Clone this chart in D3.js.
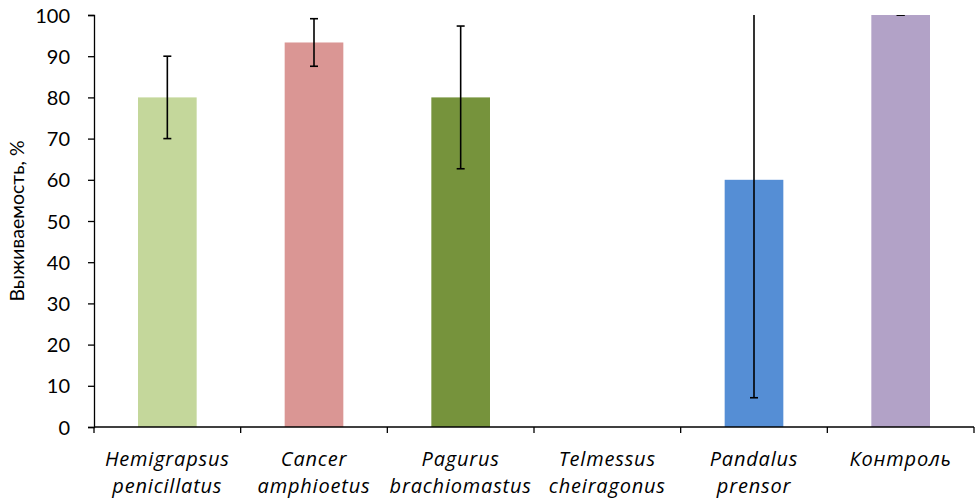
<!DOCTYPE html>
<html>
<head>
<meta charset="utf-8">
<script src="https://cdn.jsdelivr.net/npm/d3@7"></script>
<style>
  html, body { margin: 0; padding: 0; background: #fff; }
  svg { display: block; }
  text { font-family: Lato, "Open Sans", sans-serif; fill: #000; }
</style>
</head>
<body>
<svg id="chart" width="977" height="501"></svg>
<script>
// Survival of species after exposure, with standard error bars
const categories = [
  ["Hemigrapsus", "penicillatus"],
  ["Cancer", "amphioetus"],
  ["Pagurus", "brachiomastus"],
  ["Telmessus", "cheiragonus"],
  ["Pandalus", "prensor"],
  ["Контроль"]
];
const survival = [80, 93.33, 80, 0, 60, 100];
const errors = [10, 5.77, 17.32, 0, 52.9, 0];
const colors = ["#c4d79b", "#da9694", "#76933c", "#558ed5", "#558ed5", "#b2a2c7"];
const yTicks = [0, 10, 20, 30, 40, 50, 60, 70, 80, 90, 100];
const yLabel = "Выживаемость, %";

const svg = d3.select("#chart");
const margin = { left: 94, right: 3, top: 15, bottom: 74 };
const width = 977, height = 501;
const x0 = margin.left, x1 = width - margin.right;
const y0 = height - margin.bottom, y1 = margin.top;

const x = d3.scaleBand()
  .domain(d3.range(categories.length))
  .range([x0, x1])
  .paddingInner(0.6)
  .paddingOuter(0.3);

const y = d3.scaleLinear().domain([0, 100]).range([y0, y1]);

svg.append("defs").append("clipPath").attr("id", "plot")
  .append("rect").attr("x", x0).attr("y", y1).attr("width", x1 - x0).attr("height", y0 - y1);

// bars
svg.append("g").selectAll("rect")
  .data(survival)
  .join("rect")
  .attr("x", (d, i) => x(i))
  .attr("width", x.bandwidth())
  .attr("y", d => y(d))
  .attr("height", d => y(0) - y(d))
  .attr("fill", (d, i) => colors[i]);

// error bars
const eg = svg.append("g").attr("clip-path", "url(#plot)")
  .attr("stroke", "#000").attr("stroke-width", 1.6);
survival.forEach((v, i) => {
  if (v === 0) return;
  const cx = x(i) + x.bandwidth() / 2;
  const lo = v - errors[i], hi = v + errors[i];
  eg.append("line").attr("x1", cx).attr("x2", cx).attr("y1", y(lo)).attr("y2", y(hi));
  eg.append("line").attr("x1", cx - 4).attr("x2", cx + 4).attr("y1", y(lo)).attr("y2", y(lo));
  eg.append("line").attr("x1", cx - 4).attr("x2", cx + 4).attr("y1", y(hi)).attr("y2", y(hi));
});

// y axis
const yAxis = svg.append("g")
  .attr("transform", `translate(${x0},0)`)
  .call(d3.axisLeft(y).tickValues(yTicks).tickSize(6).tickPadding(18));
yAxis.select(".domain").attr("stroke", "#000").attr("stroke-width", 1.3);
yAxis.selectAll(".tick line").attr("stroke", "#000").attr("stroke-width", 1.3);
yAxis.selectAll(".tick text").style("font-size", "20px").attr("dy", "0.35em");

// x axis with ticks between categories
const boundaries = d3.range(categories.length + 1).map(i => x0 + i * (x1 - x0) / categories.length);
const xg = svg.append("g");
xg.append("line").attr("x1", x0).attr("x2", x1).attr("y1", y0).attr("y2", y0)
  .attr("stroke", "#000").attr("stroke-width", 1.3);
xg.selectAll("line.t").data(boundaries).join("line").attr("class", "t")
  .attr("x1", d => d).attr("x2", d => d).attr("y1", y0).attr("y2", y0 + 6)
  .attr("stroke", "#000").attr("stroke-width", 1.3);

categories.forEach((lines, i) => {
  const cx = x(i) + x.bandwidth() / 2;
  const t = xg.append("text")
    .attr("text-anchor", "middle")
    .style("font-family", "'Open Sans', sans-serif")
    .style("font-size", "20px")
    .style("font-style", "italic")
    .style("letter-spacing", "0.8px");
  lines.forEach((ln, k) => {
    t.append("tspan").attr("x", cx).attr("y", 466 + k * 27).text(ln);
  });
});

// y axis title
svg.append("text")
  .attr("transform", `translate(24,${(y0 + y1) / 2}) rotate(-90)`)
  .attr("text-anchor", "middle")
  .style("font-size", "19.5px")
  .text(yLabel);
</script>
</body>
</html>
